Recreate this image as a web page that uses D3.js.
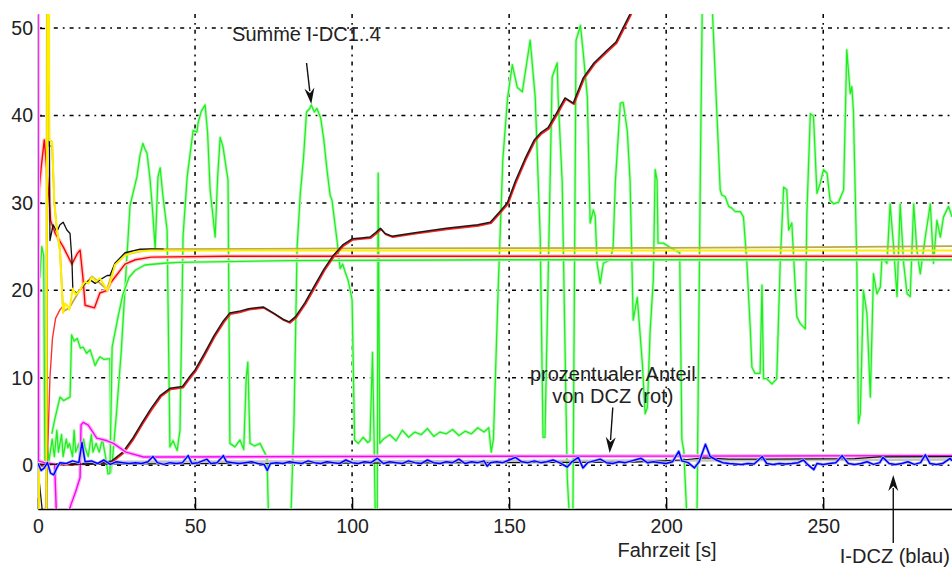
<!DOCTYPE html>
<html><head><meta charset="utf-8">
<script src="https://cdn.jsdelivr.net/npm/d3@7"></script>
<style>html,body{margin:0;padding:0;background:#fff;}svg{display:block;}</style>
</head><body>
<svg id="chart" width="952" height="567"></svg>
<script>
// ---------------- DATA ----------------
const xTicks = [0, 50, 100, 150, 200, 250];
const yTicks = [0, 10, 20, 30, 40, 50];
const xLabel = "Fahrzeit [s]";

// wild green (Summe I-DC1..4)
const greenWild = [[4.4,3.6],[5.5,5.5],[7,7.8],[8.1,7.4],[10.2,7.8],[10.7,14.9],[11.5,14.2],[12.5,14.5],[13.5,13.4],[14.4,13.5],[15.5,12.8],[16.6,13.2],[17.5,12.2],[18.2,11.4],[19,12],[19.7,12.4],[21,12.1],[22.9,12.2],[23.2,-0.8],[23.8,1],[25,6],[26.5,13],[28,22],[29.3,29.7],[30.5,31.5],[31.5,33],[32.5,35.5],[33.4,36.8],[34,36.2],[34.7,35.7],[35.7,32.6],[36.5,29],[37.3,24.8],[38.2,33],[38.9,34],[39.8,30.7],[41.1,26.9],[42,2.1],[43,2.8],[44.3,1.7],[45.2,4],[46.2,26.3],[47.5,33],[49.4,38.3],[50.6,38.1],[51,39.2],[52,40.5],[53.2,41.2],[54,38],[54.8,31.5],[56.4,26.1],[57.2,33],[58,37.5],[58.9,36.4],[60.5,32.6],[61.1,2.5],[62.7,2.1],[64.3,2.9],[65.5,1.8],[66.3,10],[66.8,11.8],[67.5,2.5],[69,2.2],[70.7,2.5],[72.9,0.9],[73.4,-6],[80.5,-6],[81.5,5],[82.5,25],[83.5,31],[84.5,35],[85.5,40.4],[86.5,40.8],[87,41.2],[88,40.4],[88.8,40.8],[90,39.7],[91,37.2],[92,33.8],[93,30.9],[93.6,30.3],[95.2,25.7],[96.2,22.5],[97,23],[97.8,22.1],[98.7,21.2],[99.4,20],[100,18.9],[100.8,2.9],[102,2.5],[103.5,3.2],[105,2.6],[105.7,2.8],[106.5,12.9],[107,3],[107.4,-6],[108,-6],[108.3,33.4],[108.8,2.5],[110,3],[112,3.5],[114,2.8],[116,4],[118,3.2],[120,3.8],[122,3.5],[124,4.2],[126,3.3],[128,3.8],[130,3.6],[132,4.1],[134,3.4],[136,3.9],[138,3.6],[140,4.3],[142,3.8],[143.5,4.3],[144.3,1.5],[145,3],[146.5,20],[148,35],[149.5,42],[151,45.8],[152.6,43.2],[154.2,42.7],[156.7,48.6],[158.3,42.1],[159.9,26.1],[160.8,3.2],[161.4,3.2],[163.7,44.4],[165.3,46],[165.6,42.1],[166.9,32.3],[168.5,-1.4],[169.2,-6],[170.3,-6],[171.3,48.6],[172,49.4],[172.7,50.3],[173.5,47.5],[174.9,42.1],[175.8,27.7],[176.8,29.2],[177.4,28.5],[178,23.1],[179,20.8],[180,23.1],[182.2,23.5],[183.1,24.9],[183.8,32.3],[185.4,41.4],[186.3,41.5],[187.6,38.3],[188.5,32.6],[189.5,16.6],[190.8,19.2],[192.4,11.7],[193.3,5.9],[194,6.6],[194.9,15.4],[195.9,21.2],[196.5,33.8],[197.1,32.6],[197.4,25.4],[199.1,25.4],[201.3,24.9],[204.3,24.3],[205,2.9],[205.6,1.7],[206.6,-6],[209.8,-6],[210.8,30.7],[211.5,53],[214.6,53],[215.5,45.5],[217.2,31.5],[217.7,30.9],[218.8,30.7],[219.9,29.6],[220.9,29.4],[222,29.0],[223.6,29.0],[224.6,28.4],[225.7,23.1],[226.8,15.4],[227.3,11.2],[228.3,10.5],[229.9,10.5],[230.5,20.6],[231,9.9],[232,9.9],[233.7,9.3],[235.2,9.9],[236.3,23.1],[237.4,31.8],[238.4,31.5],[239,26.9],[240,27.7],[241.6,17.0],[242.7,16.2],[244.3,15.6],[244.8,28.8],[245.9,40.2],[246.9,39.9],[248,31.1],[249,32.2],[250.1,33.8],[251.2,33.4],[252.2,30.3],[253.3,29.9],[254.9,30.1],[256.5,31.5],[257.5,47.5],[258.6,42.5],[259.1,43.3],[259.6,40.6],[260.7,23.1],[261.2,4.8],[261.8,5.9],[262.8,20.0],[263.9,17.4],[265,7.8],[266,21.9],[267.1,19.6],[268.2,20.4],[268.7,23.8],[270.3,23.1],[271.3,29.9],[272.4,25.0],[273.5,19.3],[274.5,29.9],[275.6,23.1],[276.7,19.6],[277.7,19.3],[278.8,29.9],[279.8,24.6],[280.9,21.9],[282.5,26.1],[284.1,29.9],[285.1,23.1],[286.2,28.0],[287.3,26.1],[288.3,28.4],[289.9,29.6],[291,28.4]];

// smooth green (low noisy start, settles at 23.5)
const greenSmooth = [[0,23],[0.6,21.5],[1.2,25],[1.8,24],[2.2,0],[3,2],[3.5,0.5],[4.5,3],[5.2,1],[6,4],[6.5,1.5],[7.5,3.5],[8,1],[9,3],[9.5,2],[10,2.5],[11,1],[11.5,4],[12,1.5],[13,2.5],[13.5,0.5],[14.5,3],[15,2],[16,1],[17,3.5],[17.5,1.5],[18.5,2.5],[19.5,1.5],[20.5,3],[21.5,1],[22.3,-1],[22.9,-0.9],[23.6,13.5],[25.5,17],[27,19.5],[29,21.5],[31,22.3],[34,22.9],[40,23.1],[45,23.2],[80,23.4],[150,23.5],[291,23.5]];

// red current (settles at 23.9)
const redMain = [[0,30],[1,34],[2,37.2],[3,33],[4,28],[5.5,26.5],[8,25],[10.8,23],[12.5,24.2],[13.4,24.6],[14.3,21.5],[15,18.3],[18,18],[19.7,19.7],[22,20],[23,20.8],[24.5,21.5],[27.7,23],[31,23.5],[36,23.8],[60,23.9],[291,23.9]];
const redRise = [[2.3,-6],[3.2,3],[3.8,10],[4.6,14.5],[5.6,16.8],[7,17.8],[8.5,18.4]];

// yellow and olive (settle near 24.6)
const yellowLine = [[0,22],[0.4,-6],[2.7,-6],[3.0,60],[3.5,60],[3.6,37.2],[4.5,37],[5.2,30],[6,27],[7,24.5],[8,17.4],[8.6,18.5],[9.2,18.3],[10,17.8],[11.1,20.2],[12,19.5],[13.4,20],[14.2,20.6],[15,21],[16,20.8],[17.2,21.5],[18.5,21],[19.7,21.4],[21,20.6],[22,20],[22.9,20.8],[24.5,22.9],[27.7,24],[31,24.4],[35.7,24.55],[291,24.55]];
const oliveLine = [[0,28],[0.3,-6],[2.6,-6],[2.85,60],[3.3,60],[3.6,36.5],[4.5,36.5],[5.2,30],[6,27],[7,24.6],[8,17.6],[10,18],[13.4,20.1],[17.2,21.6],[22,20.1],[24.5,23],[27.7,24.1],[35.7,24.7],[100,24.8],[200,24.85],[250,24.95],[291,25.05]];

// black noisy start, merging into yellow
const blackEarly = [[0,-0.5],[1.6,-6],[2.8,-6],[3.1,60],[3.3,60],[3.8,25.7],[4.8,27.5],[6,26.7],[7,27.5],[8,27.8],[9.2,26.9],[10.2,26.5],[10.8,23.5],[11.1,20],[12.4,19.7],[13.4,20],[15,20.8],[16.6,21.2],[18.2,20.8],[19.7,21.2],[22,21.7],[22.9,21.7],[24.5,23.1],[27.7,24.3],[32.5,24.7],[35.7,24.75],[40,24.7]];

// Summe (black over red)
const summe = [[0,0.15],[10,0.15],[20,0.3],[23.5,0.5],[27,1.5],[30,3],[33,4.8],[36,6.5],[39,8],[42,8.8],[46,9],[48,10],[50,10.9],[53,12.8],[56,14.8],[59,16.5],[61,17.4],[64,17.6],[67,17.9],[71.7,18.1],[75,17.4],[78,16.7],[80,16.4],[82,17],[85,18.6],[88,20.5],[91,22.4],[94,24],[97,25.2],[100,25.9],[103,26],[105.7,26.1],[107.5,26.6],[109,27.1],[110.5,26.5],[112.7,26.2],[120,26.6],[130,27.1],[140,27.5],[144,27.8],[147,29],[149.4,30],[152,32.5],[155,35],[158,37.2],[160,38],[162.4,38.6],[165,40.2],[167.8,42],[170.4,41.4],[173.6,44.3],[177,46],[181,47.4],[184,48.4],[188.5,51.6],[192,54]];

// prozentualer Anteil (magenta)
const anteil = [[0,60],[0.08,28],[0.15,0.5],[2,0.3],[4,0.2],[5.3,0.1],[5.9,-6],[9.2,-6],[10.5,-4.5],[12,-3],[13.4,-1.4],[13.7,4.6],[14.4,4.9],[16,4.6],[18.7,3.1],[22,2.8],[24,2.5],[28,1.5],[33.6,0.95],[40,0.95],[100,1.0],[200,1.05],[291,1.1]];

// thin black/grey near zero
const blackLow = [[0,0.1],[30,0.15],[100,0.25],[150,0.3],[190,0.35],[205,0.6],[212,0.85],[220,0.7],[260,0.75],[268,0.95],[291,1.0]];
const greyLow = [[25,0.4],[100,0.45],[200,0.55],[291,0.65]];

// I-DCZ (blue)
const iDcz = [[0,0.2],[1,-0.6],[2,-0.3],[3,0.3],[4,-0.9],[5,-1.1],[6,-0.3],[7,0.3],[9,0.2],[11,0.5],[13,0.3],[14,2.6],[15,0.4],[17,0.5],[19,0.2],[21,0.6],[23,0.1],[25,0.4],[27,0.3],[29,0.2],[31,0.3],[33,0.2],[35,0.4],[36.6,1.0],[38,0.3],[40,0.1],[42,0.3],[44,0.2],[46,0.3],[47.8,1.1],[49,0.2],[51,0.3],[53.8,0.7],[55,0.2],[57,0.3],[59,1.1],[60,0.4],[62,0.3],[64,0.2],[66,0.3],[68,0.4],[70,0.2],[72,0.1],[73,-0.6],[74,0.2],[76,0.3],[78,0.2],[80,0.4],[82,0.3],[84,0.2],[86,0.5],[88,0.3],[90,0.2],[92,0.4],[94,0.3],[96,0.2],[98,0.6],[100,0.3],[102,0.2],[104,0.4],[106,0.3],[108,0.8],[110,0.2],[112,0.4],[114,0.3],[116,0.2],[118,0.5],[120,0.3],[122,0.2],[124,0.6],[126,0.3],[128,0.2],[130,0.4],[132,0.3],[134,0.7],[136,0.2],[138,0.4],[140,0.3],[142,0.5],[143,-0.1],[144,0.3],[146,0.4],[148,0.3],[150,0.6],[152,0.9],[154,0.4],[156,0.3],[158,0.5],[160,0.3],[162,0.4],[164,0.6],[166,0.3],[168.5,-0.2],[170,0.4],[172,0.9],[173.5,-0.3],[175,0.3],[177,0.5],[179,0.7],[181,0.3],[183,0.2],[185,0.4],[187,0.3],[189,0.5],[192,0.8],[194,0.3],[196,0.4],[198,0.3],[200,0.2],[202,0.4],[204,1.6],[205,0.5],[207,0.3],[209,-0.3],[210.5,0.4],[212.5,2.4],[214,1.0],[216,0.6],[218,0.3],[220,0.2],[222,0.15],[224,0.1],[226,0.2],[228,0.15],[230.6,1.0],[232,0.2],[234,0.1],[236,0.2],[238,0.15],[240,0.2],[242,0.3],[243.7,0.6],[245,0.1],[247,-0.5],[248,0.2],[250,0.1],[252,0.2],[254,0.3],[256,1.1],[258,0.2],[260,0.1],[262,0.2],[264,0.4],[266,0.1],[268,0.3],[269,0.9],[271,0.2],[273,0.1],[275,0.2],[277,0.4],[279,0.1],[281,0.3],[282.5,1.2],[284,0.2],[286,0.1],[288,0.2],[290.4,0.8],[291,0.5]];

// annotations
const annotations = [
  {lines:["Summe I-DC1..4"], tx:85.5, tv:48.5, from:[85.5,46.0], to:[87.0,41.3]},
  {lines:["prozentualer Anteil","von DCZ (rot)"], tx:183, tv:9.6, from:[183,6.6], to:[182,1.4]},
  {lines:["I-DCZ (blau)"], tx:272.8, tv:-11.2, from:[272.3,-8.9], to:[272.3,-1.1]}
];

// ---------------- CHART ----------------
const W = 952, H = 567;
const M = {left:38, right:0, top:14, bottom:58};
const svg = d3.select("#chart");
const x = d3.scaleLinear().domain([0, 291]).range([M.left, W - M.right]);
const y = d3.scaleLinear().domain([-5, 51.6]).range([H - M.bottom, M.top]);
const font = "'Liberation Sans', Arial, Helvetica, sans-serif";

svg.append("defs").append("clipPath").attr("id","clip")
  .append("rect").attr("x", M.left).attr("y", M.top)
  .attr("width", W - M.left - M.right).attr("height", y(-5) - M.top);

// grid
const grid = svg.append("g");
const dash = "4,5,1.8,5";
grid.selectAll("line.gy").data(yTicks).join("line")
  .attr("x1", M.left).attr("x2", W).attr("y1", d => y(d)).attr("y2", d => y(d))
  .attr("stroke", "#000").attr("stroke-width", 1.5).attr("stroke-dasharray", dash);
grid.selectAll("line.gx").data(xTicks.filter(d => d > 0)).join("line")
  .attr("x1", d => x(d)).attr("x2", d => x(d)).attr("y1", M.top).attr("y2", y(-5))
  .attr("stroke", "#000").attr("stroke-width", 1.5).attr("stroke-dasharray", dash);

// axes
const xAxis = d3.axisBottom(x).tickValues(xTicks).tickSizeInner(-11).tickSizeOuter(0).tickPadding(14);
const gx = svg.append("g").attr("transform", `translate(0,${y(-5)})`).call(xAxis);
gx.select(".domain").attr("stroke", "#000").attr("stroke-width", 1.4);
gx.selectAll(".tick line").attr("stroke", "#000").attr("stroke-width", 1.4);
gx.selectAll(".tick text").attr("font-family", font).attr("font-size", 19.5).attr("fill", "#222").attr("dy", "0.71em").attr("y", 10);

const yAxis = d3.axisLeft(y).tickValues(yTicks).tickSizeInner(-7).tickSizeOuter(0).tickPadding(12);
const gy = svg.append("g").attr("transform", `translate(${M.left},0)`).call(yAxis);
gy.select(".domain").attr("stroke", "#000").attr("stroke-width", 1.4);
gy.selectAll(".tick line").attr("stroke", "#000").attr("stroke-width", 1.4);
gy.selectAll(".tick text").attr("font-family", font).attr("font-size", 19.5).attr("fill", "#222").attr("x", -5);

// lines
const plot = svg.append("g").attr("clip-path", "url(#clip)");
const line = d3.line().x(d => x(d[0])).y(d => y(d[1])).defined(d => d[1] !== null);
function draw(data, color, width, extra) {
  const p = plot.append("path").datum(data).attr("d", line)
    .attr("fill", "none").attr("stroke", color).attr("stroke-width", width)
    .attr("stroke-linejoin", "round");
  if (extra) extra(p);
  return p;
}
draw(greenWild, "#c6f9c6", 3.2);
draw(greenWild, "#1ef01e", 1.3);
draw(greenSmooth, "#c6f9c6", 3.2);
draw(greenSmooth, "#1ef01e", 1.3);
draw(redRise, "#ff3030", 1.4);
draw(redMain, "#ffcfcf", 4);
draw(redMain, "#ff0000", 1.4);
draw(oliveLine, "#bba94a", 1.8);
draw(blackEarly, "#111", 1.3);
draw(yellowLine, "#ffee00", 2.0);
draw(summe, "#ff2020", 1.8, p => p.attr("transform", "translate(0.8,1)"));
draw(summe, "#1a1a1a", 1.5);
draw(greyLow, "#c4c4c4", 2.5);
draw(anteil, "#f6c0ec", 4);
draw(anteil, "#ff00ff", 1.4);
draw(blackLow, "#111", 1.2);
draw(iDcz, "#b4b9ff", 3);
draw(iDcz, "#0000ff", 1.5);

// x label
svg.append("text").attr("x", 667).attr("y", 557).attr("text-anchor", "middle")
  .attr("font-family", font).attr("font-size", 20).attr("fill", "#222").text(xLabel);

// annotations
const ann = svg.append("g");
annotations.forEach(a => {
  const t = ann.append("text").attr("text-anchor", "middle")
    .attr("font-family", font).attr("font-size", 20).attr("fill", "#222");
  a.lines.forEach((s, i) => t.append("tspan").attr("x", x(a.tx)).attr("y", y(a.tv) + i * 22).text(s));
  const x1 = x(a.from[0]), y1 = y(a.from[1]), x2 = x(a.to[0]), y2 = y(a.to[1]);
  const L = Math.hypot(x2 - x1, y2 - y1), ux = (x2 - x1) / L, uy = (y2 - y1) / L;
  const hl = 16, hw = 5;
  const bx = x2 - ux * hl, by = y2 - uy * hl;
  ann.append("line").attr("x1", x1).attr("y1", y1).attr("x2", bx + ux * 3).attr("y2", by + uy * 3)
    .attr("stroke", "#111").attr("stroke-width", 1.4);
  ann.append("path")
    .attr("d", `M${x2},${y2}L${bx - uy * hw},${by + ux * hw}L${bx + ux * 5},${by + uy * 5}L${bx + uy * hw},${by - ux * hw}Z`)
    .attr("fill", "#111");
});
</script>
</body></html>
